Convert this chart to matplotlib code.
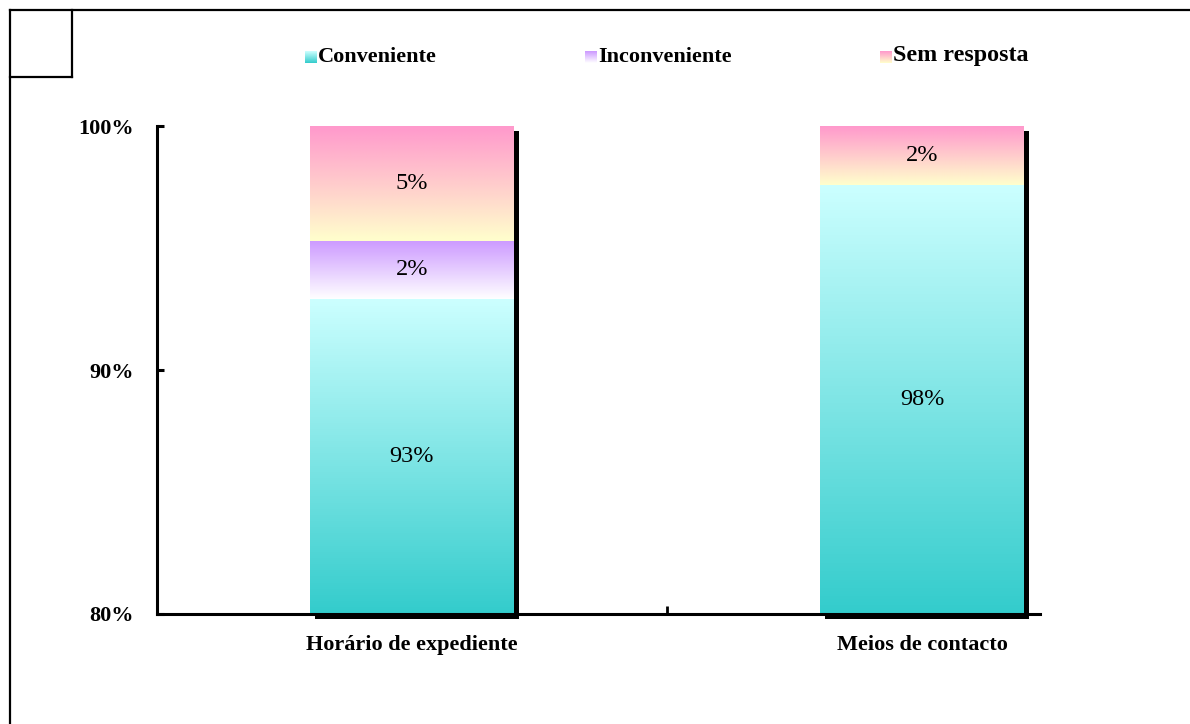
import numpy as np
import matplotlib
matplotlib.use("Agg")
import matplotlib.pyplot as plt
import matplotlib.transforms as mtransforms
from matplotlib.colors import LinearSegmentedColormap
from matplotlib.lines import Line2D

# ---- data ----
categories = ["Horário de expediente", "Meios de contacto"]
series_names = ["Conveniente", "Inconveniente", "Sem resposta"]
conveniente = [92.9, 97.6]
inconveniente = [2.4, 0.0]
sem_resposta = [4.7, 2.4]
y_ticks = [80, 90, 100]
y_tick_labels = ["80%", "90%", "100%"]

# gradient colours (top, bottom) per series
grad_colors = [("#CCFFFF", "#33CCCC"), ("#CC99FF", "#FFFFFF"), ("#FF99CC", "#FFFFCC")]

W, H = 1190, 724
fig = plt.figure(figsize=(W / 100, H / 100), dpi=100)
fig.patch.set_facecolor("white")

# outer frame lines
frame_kw = dict(color="black", lw=1.6, transform=fig.transFigure)
def fx(px): return px / W
def fy(py): return 1 - py / H
fig.add_artist(Line2D([fx(10), 1.0], [fy(10), fy(10)], **frame_kw))
fig.add_artist(Line2D([fx(10), fx(10)], [fy(10), 0.0], **frame_kw))
fig.add_artist(Line2D([fx(72), fx(72)], [fy(10), fy(77)], **frame_kw))
fig.add_artist(Line2D([fx(10), fx(72)], [fy(77), fy(77)], **frame_kw))

ax = fig.add_axes([fx(157), fy(614), (1177 - 157) / W, (614 - 126) / H])
ax.set_facecolor("none")

ymin, ymax = 80, 100
xpos = np.arange(len(categories))
bw = 0.4

segments = [conveniente, inconveniente, sem_resposta]
bottoms = np.zeros(len(categories))
tops_all = []
for vals in segments:
    tops_all.append((bottoms.copy(), bottoms + np.array(vals)))
    bottoms = bottoms + np.array(vals)

# shadow
shadow_tr = ax.transData + mtransforms.ScaledTranslation(5 / 100, -5 / 100, fig.dpi_scale_trans)
totals = bottoms
ax.bar(xpos, totals - ymin, bottom=ymin, width=bw, color="black", transform=shadow_tr,
       zorder=1, clip_on=False)

# gradient segments
for (b, t), (ctop, cbot), vals in zip(tops_all, grad_colors, segments):
    cmap = LinearSegmentedColormap.from_list("g", [cbot, ctop])
    grad = np.linspace(0, 1, 256).reshape(-1, 1)
    for i in range(len(categories)):
        if vals[i] <= 0:
            continue
        lo = max(b[i], ymin)
        hi = t[i]
        ax.imshow(grad, cmap=cmap, origin="lower", aspect="auto",
                  extent=(xpos[i] - bw / 2, xpos[i] + bw / 2, lo, hi),
                  interpolation="bilinear", zorder=2)
        ax.text(xpos[i], (lo + hi) / 2, f"{round(vals[i])}%", ha="center", va="center",
                fontsize=17.5, family="Liberation Serif", zorder=3)

ax.set_xlim(-0.5, 1.5)
ax.set_ylim(ymin, ymax)

# axes styling
for s in ["top", "right"]:
    ax.spines[s].set_visible(False)
ax.spines["left"].set_linewidth(2.2)
ax.spines["bottom"].set_linewidth(2.2)
ax.spines["bottom"].set_bounds(-0.5, 1.231)
ax.spines["bottom"].set_zorder(4)

ax.set_yticks(y_ticks)
ax.set_yticklabels(y_tick_labels, fontsize=16, family="Liberation Serif", fontweight="bold")
ax.tick_params(axis="y", direction="in", length=5, width=2.2, pad=17)

ax.set_xticks(xpos)
ax.set_xticklabels(categories, fontsize=16, family="Liberation Serif", fontweight="bold")
ax.tick_params(axis="x", which="major", length=0, pad=15)
ax.set_xticks([0.5], minor=True)
ax.tick_params(axis="x", which="minor", direction="in", length=6, width=2)

# legend (manual)
leg_x = [305, 585, 880]
leg_y = 57
for name, (ctop, cbot), lx in zip(series_names, grad_colors, leg_x):
    lax = fig.add_axes([fx(lx), fy(leg_y + 6), 12 / W, 12 / H])
    cmap = LinearSegmentedColormap.from_list("g", [cbot, ctop])
    lax.imshow(np.linspace(0, 1, 64).reshape(-1, 1), cmap=cmap, origin="lower", aspect="auto")
    lax.axis("off")
    fig.text(fx(lx + 13), fy(leg_y if name != "Sem resposta" else leg_y - 2), name,
             ha="left", va="center",
             fontsize=16 if name != "Sem resposta" else 17.3,
             family="Liberation Serif", fontweight="bold")

fig.savefig("out.png", dpi=100, facecolor="white")
